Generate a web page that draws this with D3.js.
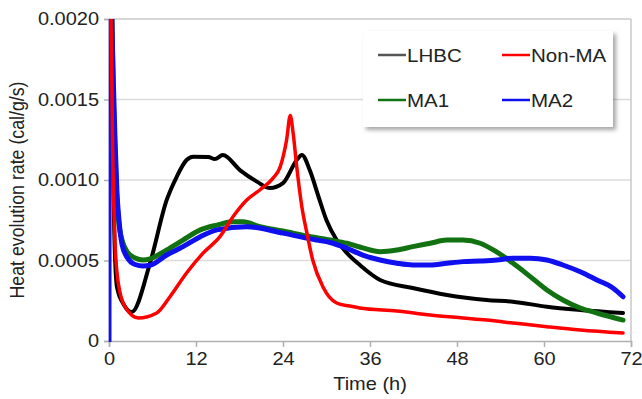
<!DOCTYPE html>
<html><head><meta charset="utf-8">
<script src="https://cdn.jsdelivr.net/npm/d3@7"></script>
<style>body{margin:0;background:#fff}svg{display:block;font-family:"Liberation Sans",Arial,sans-serif}</style>
</head><body><svg id="c" width="642" height="399"></svg>
<script>
const xTicks = [0, 12, 24, 36, 48, 60, 72];
const yTicks = [0, 0.0005, 0.0010, 0.0015, 0.0020];
const yTickLabels = ["0", "0.0005", "0.0010", "0.0015", "0.0020"];
const seriesNames = ["LHBC", "Non-MA", "MA1", "MA2"];

const lhbc = [[0.15,0.0026],[0.41,0.0015],[0.69,0.00075],[1.1,0.000335],[2.07,0.000224],[3.13,0.00018],[5.66,0.000484],[7.96,0.000876],[9.34,0.00102],[10.7,0.001124],[11.6,0.001145],[13.7,0.001143],[14.6,0.00113],[15.7,0.001155],[18.1,0.00106],[20.4,0.00099],[22.2,0.00095],[24.0,0.00098],[25.9,0.001124],[26.6,0.001155],[27.7,0.00106],[28.9,0.000896],[30.0,0.00075],[31.4,0.000627],[32.8,0.000547],[34.6,0.000472],[37.4,0.000379],[41.9,0.000329],[46.6,0.000286],[52.1,0.000255],[55.7,0.000244],[60.4,0.000213],[65.0,0.000193],[70.9,0.000174]];
const nonMA = [[0.12,0.0026],[0.5,0.0012],[0.83,0.00061],[1.28,0.00036],[2.2,0.000213],[4.04,0.000143],[6.58,0.000174],[8.41,0.000275],[10.7,0.000422],[13.0,0.000547],[15.3,0.000648],[17.1,0.000772],[19.0,0.000876],[20.8,0.000938],[22.6,0.00101],[23.6,0.00108],[24.5,0.00125],[25.0,0.0014],[25.4,0.00129],[25.9,0.00108],[26.6,0.000834],[27.3,0.00067],[28.1,0.000503],[29.5,0.000337],[31.4,0.000236],[33.2,0.000217],[34.6,0.000205],[39.7,0.000186],[44.3,0.000161],[48.8,0.000143],[52.1,0.00013],[55.7,0.000112],[60.4,0.0000888],[65.0,0.0000683],[70.9,0.0000497]];
const ma1 = [[0.2,0.0026],[0.55,0.0016],[0.83,0.00119],[1.1,0.000876],[1.38,0.00072],[1.8,0.000627],[2.5,0.000553],[3.6,0.000515],[4.7,0.000503],[5.66,0.00051],[7.96,0.000565],[10.2,0.000627],[12.6,0.00069],[14.9,0.00072],[17.1,0.00074],[18.5,0.00074],[20.8,0.00071],[24.0,0.000683],[27.3,0.000652],[30.5,0.000627],[32.8,0.000607],[35.0,0.000578],[37.4,0.000555],[39.7,0.000565],[41.9,0.000586],[44.3,0.000607],[46.6,0.000627],[48.8,0.000627],[51.2,0.000607],[53.5,0.000552],[55.7,0.000484],[58.1,0.0004],[60.4,0.000317],[62.6,0.000255],[65.0,0.000205],[67.3,0.000174],[70.9,0.00013]];
const ma2 = [[0.0,0.0],[0.02,0.0026],[0.55,0.0017],[0.83,0.00125],[1.1,0.00092],[1.38,0.00075],[1.8,0.0006],[2.5,0.00052],[3.6,0.000475],[4.7,0.000466],[5.66,0.00047],[7.96,0.000534],[10.2,0.000586],[12.6,0.000648],[14.9,0.00069],[19.0,0.00071],[24.0,0.00067],[28.6,0.000627],[30.5,0.000612],[32.8,0.000576],[35.0,0.000534],[37.4,0.000503],[39.7,0.000483],[41.9,0.000472],[44.3,0.000472],[46.6,0.000483],[48.8,0.000493],[51.2,0.000497],[53.5,0.000503],[55.7,0.000514],[58.1,0.000514],[60.4,0.000503],[62.6,0.000472],[65.0,0.00043],[67.3,0.000379],[69.5,0.000329],[70.9,0.000275]];

const seriesData = [lhbc, nonMA, ma1, ma2];
const seriesColors = ["#000000", "#ff0000", "#127212", "#1010ee"];
const legendColors = ["#555555", "#ff0000", "#127212", "#1010ee"];
const seriesWidths = [4, 3.5, 5, 5];

const svg = d3.select("#c");
const L = 109, R = 631, T = 19, B = 341;
const x = d3.scaleLinear().domain([0,72]).range([L,R]);
const y = d3.scaleLinear().domain([0,0.002]).range([B,T]);
const SX = 1.11; // horizontal stretch of text in the reference

// gridlines
svg.append("g").selectAll("line").data(yTicks.slice(1)).join("line")
  .attr("x1",L).attr("x2",R).attr("y1",d=>y(d)).attr("y2",d=>y(d))
  .attr("stroke",d=>d===0.002?"#c8c8c8":"#dcdcdc").attr("stroke-width",1.5);
svg.append("line").attr("x1",R).attr("x2",R).attr("y1",T).attr("y2",B).attr("stroke","#c8c8c8").attr("stroke-width",1.5);

// axes
const gx = svg.append("g").attr("transform",`translate(0,${B})`)
  .call(d3.axisBottom(x).tickValues(xTicks).tickSize(6).tickPadding(5).tickFormat(d3.format("d")));
const gy = svg.append("g").attr("transform",`translate(${L},0)`)
  .call(d3.axisLeft(y).tickValues(yTicks).tickSize(5).tickPadding(4).tickFormat((d,i)=>yTickLabels[i]));
[gx,gy].forEach(g=>{
  g.select(".domain").attr("stroke","#b0b0b0").attr("stroke-width",1.5);
  g.selectAll(".tick line").attr("stroke","#b0b0b0").attr("stroke-width",1.5);
  g.selectAll("text").attr("fill","#222").style("font-size","18px").style("font-family","Liberation Sans, Arial, sans-serif");
});
gy.selectAll(".tick text").attr("transform",`scale(${SX},1)`).attr("x",-10/SX);
gx.selectAll(".tick text").attr("transform",`scale(${SX},1)`);

// clip
svg.append("clipPath").attr("id","clip").append("rect").attr("x",L-0.3).attr("y",T).attr("width",R-L+0.3).attr("height",B-T+1);

const line = d3.line().x(d=>x(d[0])).y(d=>y(d[1])).curve(d3.curveMonotoneX);
const order = [0,2,3,1];
const plot = svg.append("g").attr("clip-path","url(#clip)");
order.forEach(i=>{
  plot.append("path").datum(seriesData[i]).attr("d",line).attr("fill","none")
    .attr("stroke",seriesColors[i]).attr("stroke-width",seriesWidths[i]).attr("stroke-linejoin","round").attr("stroke-linecap","round");
});

// legend
const defs = svg.append("defs");
const f = defs.append("filter").attr("id","sh").attr("x","-10%").attr("y","-10%").attr("width","130%").attr("height","140%");
f.append("feDropShadow").attr("dx",3).attr("dy",3).attr("stdDeviation",2).attr("flood-color","#000").attr("flood-opacity",0.35);
svg.append("rect").attr("x",363).attr("y",31).attr("width",250).attr("height",96).attr("fill","#fff").attr("filter","url(#sh)");
const legPos = [[378,55],[502,55],[378,100],[502,100]];
seriesNames.forEach((n,i)=>{
  const [lx,ly] = legPos[i];
  svg.append("line").attr("x1",lx).attr("x2",lx+28).attr("y1",ly).attr("y2",ly).attr("stroke",legendColors[i]).attr("stroke-width",2.5);
  svg.append("text").attr("transform",`translate(${lx+29},${ly+7}) scale(${SX},1)`).text(n).attr("fill","#222").style("font-size","18.5px");
});

// axis titles
svg.append("text").attr("transform",`translate(370,390) scale(${SX},1)`).attr("text-anchor","middle").attr("fill","#222").style("font-size","18px").text("Time (h)");
svg.append("text").attr("transform","translate(24,190) rotate(-90) scale(0.96,1.13)").attr("text-anchor","middle").attr("fill","#222").style("font-size","18.5px").text("Heat evolution rate (cal/g/s)");
</script></body></html>
